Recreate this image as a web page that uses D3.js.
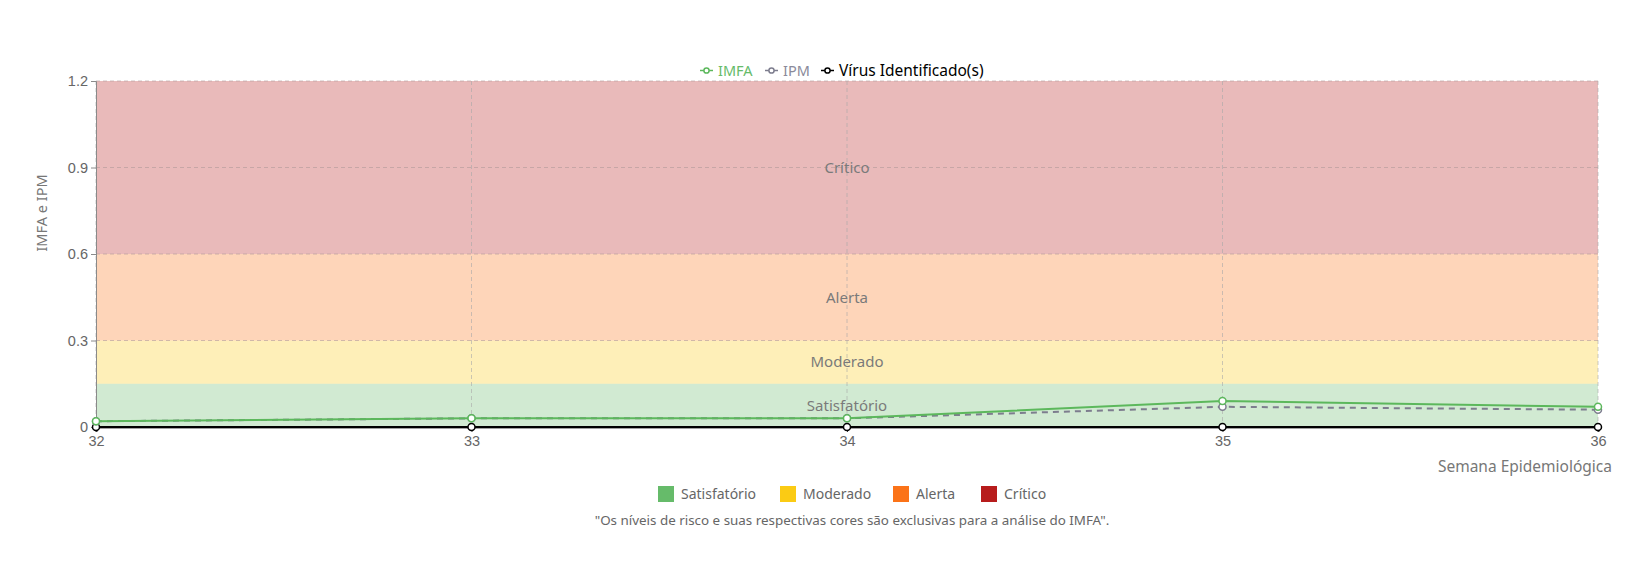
<!DOCTYPE html>
<html>
<head>
<meta charset="utf-8">
<script src="https://cdn.jsdelivr.net/npm/d3@7"></script>
<style>
  body { margin: 0; background: #fff; }
  svg { font-family: "Noto Sans", sans-serif; }
</style>
</head>
<body>
<div id="chart"></div>
<script>
const weeks = [32, 33, 34, 35, 36];
const imfa = [0.02, 0.03, 0.03, 0.09, 0.07];
const ipm = [0.02, 0.03, 0.03, 0.07, 0.06];
const virus = [0, 0, 0, 0, 0];
const yTicks = [0, 0.3, 0.6, 0.9, 1.2];

const levels = ['Satisfatório', 'Moderado', 'Alerta', 'Crítico'];
const levelBounds = [[0, 0.15], [0.15, 0.3], [0.3, 0.6], [0.6, 1.2]];
const levelColors = ['#66bb6a', '#fbcb14', '#fb7318', '#b71c1c'];

const seriesNames = ['IMFA', 'IPM', 'Vírus Identificado(s)'];
const seriesColors = ['#5cb85c', '#7d7d8e', '#000000'];

const footnote = '"Os níveis de risco e suas respectivas cores são exclusivas para a análise do IMFA".';

const width = 1649;
const height = 570;
const margin = { top: 81, right: 51, bottom: 143, left: 96 };
const innerW = width - margin.left - margin.right;
const innerH = height - margin.top - margin.bottom;

const svg = d3.select('#chart')
  .append('svg')
  .attr('width', width)
  .attr('height', height);

const x = d3.scaleLinear()
  .domain([weeks[0], weeks[weeks.length - 1]])
  .range([0, innerW]);

const y = d3.scaleLinear()
  .domain([0, 1.2])
  .range([innerH, 0]);

const g = svg.append('g')
  .attr('transform', `translate(${margin.left},${margin.top})`);

// risk bands
g.selectAll('.band')
  .data(levelBounds)
  .enter()
  .append('rect')
  .attr('class', 'band')
  .attr('x', 0)
  .attr('width', innerW)
  .attr('y', d => y(d[1]))
  .attr('height', d => y(d[0]) - y(d[1]))
  .attr('fill', (d, i) => levelColors[i])
  .attr('fill-opacity', 0.3);

// grid
g.append('g')
  .selectAll('line')
  .data(yTicks.slice(1))
  .enter()
  .append('line')
  .attr('x1', 0)
  .attr('x2', innerW)
  .attr('y1', d => y(d))
  .attr('y2', d => y(d))
  .attr('stroke', '#b09a9a')
  .attr('stroke-opacity', 0.6)
  .attr('stroke-dasharray', '4,3');

g.append('g')
  .selectAll('line')
  .data(weeks)
  .enter()
  .append('line')
  .attr('x1', d => x(d))
  .attr('x2', d => x(d))
  .attr('y1', 0)
  .attr('y2', innerH)
  .attr('stroke', '#a8a8a8')
  .attr('stroke-opacity', 0.6)
  .attr('stroke-dasharray', '4,3');

// band labels
g.selectAll('.band-label')
  .data(levelBounds)
  .enter()
  .append('text')
  .attr('class', 'band-label')
  .attr('x', innerW / 2)
  .attr('y', d => y((d[0] + d[1]) / 2))
  .attr('dy', '0.35em')
  .attr('text-anchor', 'middle')
  .attr('font-size', 15)
  .attr('fill', '#7a7a7a')
  .text((d, i) => levels[i]);

// axes
const yAxis = d3.axisLeft(y)
  .tickValues(yTicks)
  .tickSize(5)
  .tickPadding(3)
  .tickFormat(d => d === 0 ? '0' : d3.format('.1f')(d));

const yg = g.append('g').call(yAxis);
yg.select('.domain').attr('stroke', '#8a8a8a');
yg.selectAll('.tick line').attr('stroke', '#8a8a8a');
yg.selectAll('.tick text').attr('font-size', 14.5).attr('fill', '#666');

const xAxis = d3.axisBottom(x)
  .tickValues(weeks)
  .tickSize(5)
  .tickPadding(4)
  .tickFormat(d3.format('d'));

const xg = g.append('g')
  .attr('transform', `translate(0,${innerH})`)
  .call(xAxis);
xg.select('.domain').attr('stroke', '#444').attr('stroke-width', 2);
xg.selectAll('.tick line').attr('stroke', '#444');
xg.selectAll('.tick text').attr('font-size', 14.5).attr('fill', '#666');

svg.append('text')
  .attr('transform', `translate(42,213) rotate(-90)`)
  .attr('text-anchor', 'middle')
  .attr('dy', '0.35em')
  .attr('font-size', 14.5)
  .attr('fill', '#777')
  .text('IMFA e IPM');

svg.append('text')
  .attr('x', 1612)
  .attr('y', 467)
  .attr('dy', '0.35em')
  .attr('text-anchor', 'end')
  .attr('font-size', 15.5)
  .attr('fill', '#777')
  .text('Semana Epidemiológica');

// series
const line = d3.line()
  .x((d, i) => x(weeks[i]))
  .y(d => y(d));

const series = [imfa, ipm, virus];
const order = [2, 1, 0];
order.forEach(s => {
  g.append('path')
    .datum(series[s])
    .attr('fill', 'none')
    .attr('stroke', seriesColors[s])
    .attr('stroke-width', 2)
    .attr('stroke-dasharray', s === 1 ? '6,5' : null)
    .attr('d', line);
  g.selectAll(`.pt${s}`)
    .data(series[s])
    .enter()
    .append('circle')
    .attr('class', `pt${s}`)
    .attr('cx', (d, i) => x(weeks[i]))
    .attr('cy', d => y(d))
    .attr('r', 3.5)
    .attr('fill', '#fff')
    .attr('stroke', seriesColors[s])
    .attr('stroke-width', 1.5);
});

// top legend
const legendX = [700, 765, 821];
const legend = svg.append('g');
seriesNames.forEach((name, i) => {
  const item = legend.append('g').attr('transform', `translate(${legendX[i]},70.5)`);
  item.append('line')
    .attr('x1', 0).attr('x2', 13)
    .attr('stroke', seriesColors[i]).attr('stroke-width', 1.5);
  item.append('circle')
    .attr('cx', 6.5).attr('r', 2.6)
    .attr('fill', '#fff').attr('stroke', seriesColors[i]).attr('stroke-width', 1.5);
  item.append('text')
    .attr('x', 18)
    .attr('dy', '0.35em')
    .attr('font-size', i === 2 ? 15.5 : 14.5)
    .attr('fill', i === 0 ? '#66bb6a' : (i === 1 ? '#8a8a9a' : '#000'))
    .text(name);
});

// bottom legend
const levelX = [658, 780, 893, 981];
levels.forEach((name, i) => {
  const item = svg.append('g').attr('transform', `translate(${levelX[i]},494)`);
  item.append('rect')
    .attr('x', 0).attr('y', -8)
    .attr('width', 16).attr('height', 16)
    .attr('fill', levelColors[i]);
  item.append('text')
    .attr('x', 23)
    .attr('dy', '0.35em')
    .attr('font-size', 14)
    .attr('fill', '#666')
    .text(name);
});

svg.append('text')
  .attr('x', 852)
  .attr('y', 520)
  .attr('dy', '0.35em')
  .attr('text-anchor', 'middle')
  .attr('font-size', 13.4)
  .attr('fill', '#666')
  .text(footnote);
</script>
</body>
</html>
